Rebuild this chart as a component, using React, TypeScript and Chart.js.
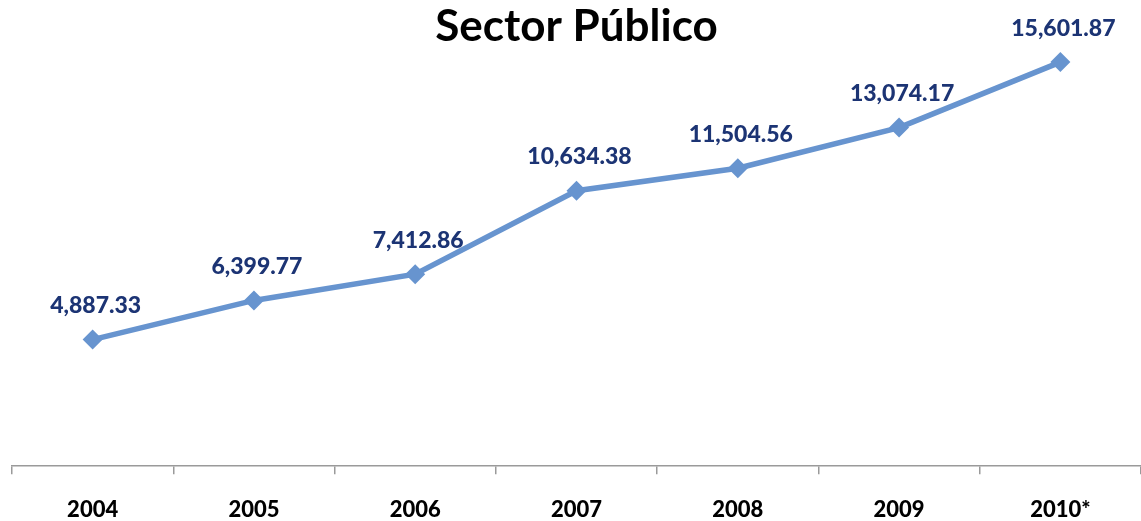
import React, { useEffect, useRef } from "react";
import { Chart, registerables } from "chart.js";

Chart.register(...registerables);

const categories = ["2004", "2005", "2006", "2007", "2008", "2009", "2010*"];
const values = [4887.33, 6399.77, 7412.86, 10634.38, 11504.56, 13074.17, 15601.87];
const valueLabels = ["4,887.33", "6,399.77", "7,412.86", "10,634.38", "11,504.56", "13,074.17", "15,601.87"];
const titleText = "Sector Público";

const FONT = "Lato, 'Open Sans', sans-serif";

const overlayPlugin = {
  id: "overlay",
  afterDatasetsDraw(chart: any) {
    const ctx = chart.ctx;
    const meta = chart.getDatasetMeta(0);
    ctx.save();
    ctx.fillStyle = "#1c3474";
    ctx.font = `900 23px ${FONT}`;
    ctx.textAlign = "center";
    ctx.textBaseline = "middle";
    meta.data.forEach((pt: any, i: number) => {
      ctx.fillText(valueLabels[i], pt.x + 3, pt.y - 34);
    });
    ctx.restore();
  },
  afterDraw(chart: any) {
    const ctx = chart.ctx;
    const area = chart.chartArea;
    ctx.save();
    ctx.fillStyle = "#000000";
    ctx.font = `bold 44px ${FONT}`;
    ctx.textAlign = "center";
    ctx.textBaseline = "middle";
    ctx.fillText(titleText, (area.left + area.right) / 2, 27);
    ctx.restore();
  },
};

export default function App() {
  const ref = useRef<HTMLCanvasElement | null>(null);
  useEffect(() => {
    if (!ref.current) return;
    const chart = new Chart(ref.current, {
      type: "line",
      data: {
        labels: categories,
        datasets: [
          {
            data: values,
            borderColor: "#6794cf",
            backgroundColor: "#6794cf",
            borderWidth: 5.5,
            pointStyle: "rectRot",
            pointRadius: 10,
            pointHoverRadius: 10,
            pointBackgroundColor: "#6794cf",
            pointBorderWidth: 0,
            tension: 0,
            clip: false as any,
          },
        ],
      },
      options: {
        animation: false,
        responsive: false,
        maintainAspectRatio: false,
        layout: { autoPadding: false, padding: { left: 12, right: 0, top: 0, bottom: -25 } },
        plugins: {
          legend: { display: false },
          title: { display: false },
          tooltip: { enabled: false },
        },
        scales: {
          y: {
            display: false,
            min: 0,
            max: 18000,
          },
          x: {
            offset: true,
            grid: {
              offset: true,
              drawOnChartArea: false,
              drawTicks: true,
              tickLength: 8,
              color: "#9a9a9a",
              lineWidth: 1.5,
            },
            border: { display: true, color: "#9a9a9a", width: 1.5 },
            ticks: {
              color: "#000000",
              font: { family: FONT, size: 22, weight: "900", lineHeight: 0.9 },
              padding: 26,
              maxRotation: 0,
              autoSkip: false,
            },
          },
        },
      },
      plugins: [overlayPlugin],
    });
    return () => chart.destroy();
  }, []);
  return (
    <div style={{ position: "fixed", left: 0, top: 0, width: 1141, height: 521, background: "#fff" }}>
      <canvas ref={ref} width={1141} height={521} style={{ width: 1141, height: 521, display: "block" }} />
    </div>
  );
}
